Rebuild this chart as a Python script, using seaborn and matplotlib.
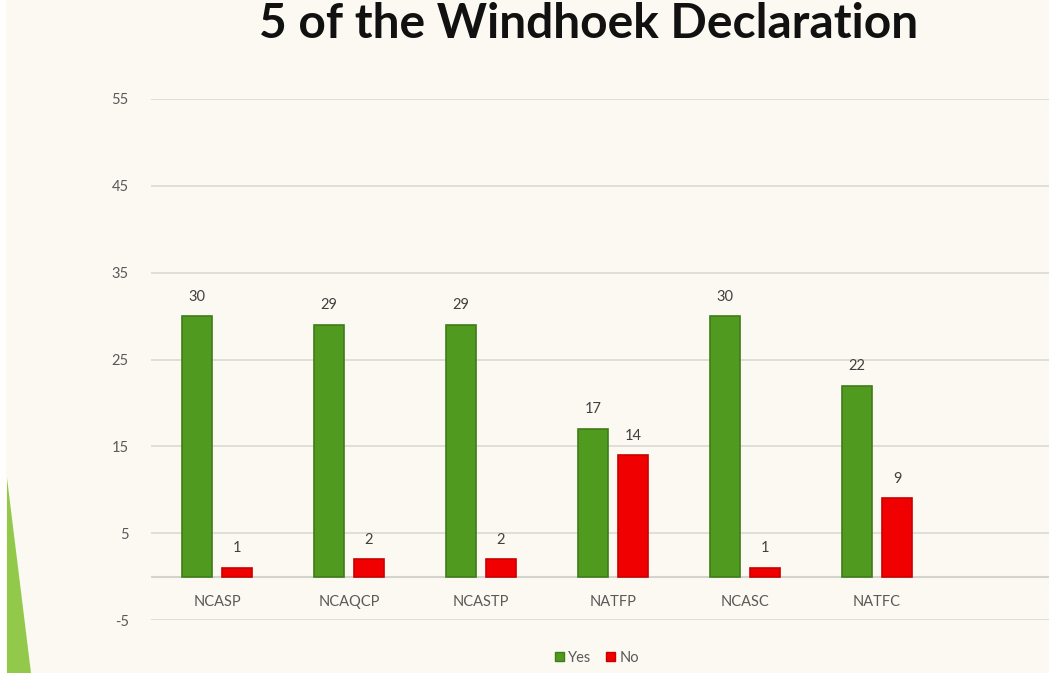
import pandas as pd
import matplotlib.pyplot as plt
import seaborn as sns
from matplotlib.patches import Polygon, Rectangle

# --- chart data ---
categories = ['NCASP', 'NCAQCP', 'NCASTP', 'NATFP', 'NCASC', 'NATFC']
yes_counts = [30, 29, 29, 17, 30, 22]
no_counts = [1, 2, 2, 14, 1, 9]
y_ticks = [-5, 5, 15, 25, 35, 45, 55]
title_text = '5 of the Windhoek Declaration'

BG = '#fbf9f1'
GREEN = '#4f9a1f'
RED = '#f00000'
EDGE = {'Yes': '#3f7d18', 'No': '#c80000'}
TEXT_GRAY = '#595959'

df = pd.DataFrame({
    'category': categories * 2,
    'answer': ['Yes'] * len(categories) + ['No'] * len(categories),
    'count': yes_counts + no_counts,
})

sns.set_theme(style='white')
plt.rcParams['font.family'] = ['Lato', 'DejaVu Sans']

W, H = 1049, 673
fig = plt.figure(figsize=(W / 100, H / 100), dpi=100, facecolor=BG)
ax = fig.add_axes([151 / W, (H - 620) / H, (W - 151) / W, (620 - 99) / H])
ax.set_facecolor(BG)

sns.barplot(data=df, x='category', y='count', hue='answer', order=categories,
            hue_order=['Yes', 'No'], palette={'Yes': GREEN, 'No': RED},
            saturation=1, width=0.606, gap=0.25, linewidth=1.2, ax=ax,
            legend=False, zorder=3)

# per-series edge colours and value labels
for cont, name in zip(ax.containers, ['Yes', 'No']):
    for bar in cont:
        bar.set_edgecolor(EDGE[name])
    ax.bar_label(cont, fmt='%d', padding=9, fontsize=10.5, color='#404040')

ax.set_xlim(-0.5, -0.5 + (W - 151) / 132)
ax.set_ylim(-5, 55)
ax.set_yticks(y_ticks)
ax.set_yticklabels([str(t) for t in y_ticks], fontsize=10.5, color=TEXT_GRAY)
ax.tick_params(axis='y', length=0, pad=16)
ax.set_xticks([])
ax.set_xlabel('')
ax.set_ylabel('')
for s in ax.spines.values():
    s.set_visible(False)

for t in y_ticks:
    ax.axhline(t, color='#dcdcd6', lw=1.3, zorder=1)
ax.axhline(0, color='#d4d4cf', lw=1.5, zorder=2)

# category labels just under the zero line
for i, c in enumerate(categories):
    ax.text(i, -2.9, c, ha='center', va='center', fontsize=10.5, color=TEXT_GRAY)

# legend below the plot
handles = [Rectangle((0, 0), 1, 1, fc=GREEN, ec=EDGE['Yes']),
           Rectangle((0, 0), 1, 1, fc=RED, ec=EDGE['No'])]
fig.legend(handles, ['Yes', 'No'], loc='center', bbox_to_anchor=(597 / W, (H - 658) / H),
           ncol=2, frameon=False, fontsize=10.5, handlelength=0.6, handleheight=0.6,
           handletextpad=0.3, columnspacing=1.0, labelcolor=TEXT_GRAY)

# slide title
fig.text(589 / W, (H - 24) / H, title_text, ha='center', va='center',
         fontsize=34.5, fontweight='bold', color='#111111')

# slide decoration on the left edge
fig.patches.append(Rectangle((0, 0), 6 / W, 1, transform=fig.transFigure,
                             fc='#fefefc', ec='none'))
fig.patches.append(Polygon([(7 / W, (H - 478) / H), (31 / W, 0), (7 / W, 0)],
                           closed=True, transform=fig.transFigure,
                           fc='#93c94a', ec='none'))

fig.savefig('out.png', dpi=100, facecolor=BG)
